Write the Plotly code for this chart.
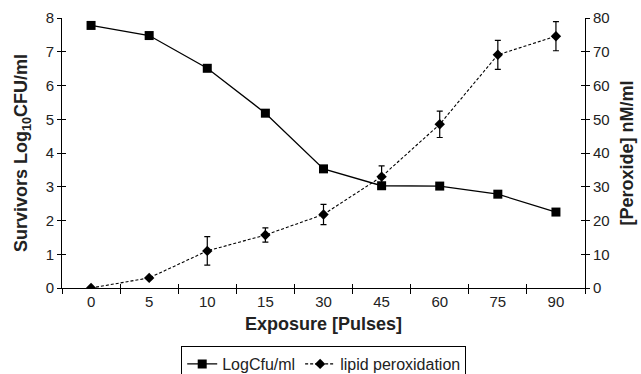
import plotly.graph_objects as go

exposure = ["0", "5", "10", "15", "30", "45", "60", "75", "90"]
log_cfu = [7.78, 7.48, 6.51, 5.18, 3.53, 3.03, 3.02, 2.78, 2.25]
lipid = [0.0, 3.0, 11.0, 15.7, 21.8, 33.0, 48.5, 69.1, 74.6]
lipid_err = [0, 0, 4.2, 2.1, 3.0, 3.2, 3.9, 4.3, 4.3]

font_family = "Liberation Sans, Arial, sans-serif"
txt = "#222222"

fig = go.Figure()
fig.add_trace(go.Scatter(
    x=exposure, y=log_cfu, name="LogCfu/ml", mode="lines+markers",
    line=dict(color="black", width=1.3),
    marker=dict(symbol="square", size=9, color="black"),
    xaxis="x", yaxis="y"))
fig.add_trace(go.Scatter(
    x=exposure, y=lipid, name="lipid peroxidation", mode="lines+markers",
    line=dict(color="black", width=1.1, dash="3px,2px"),
    marker=dict(symbol="diamond", size=8, color="black"),
    error_y=dict(type="data", array=lipid_err, visible=True,
                 color="black", thickness=1.2, width=3),
    xaxis="x", yaxis="y2"))
# invisible helper traces so the inner-tick axes get drawn
fig.add_trace(go.Scatter(x=exposure, y=log_cfu, mode="none", showlegend=False,
                         hoverinfo="skip", xaxis="x2", yaxis="y3"))
fig.add_trace(go.Scatter(x=exposure, y=lipid, mode="none", showlegend=False,
                         hoverinfo="skip", xaxis="x2", yaxis="y4"))

tick_common = dict(showgrid=False, zeroline=False, tickcolor="black", linecolor="black",
                   linewidth=1, automargin=False)

fig.update_layout(
    width=641, height=374,
    margin=dict(l=62, r=56, t=18, b=86),
    paper_bgcolor="white", plot_bgcolor="white",
    font=dict(family=font_family, size=15, color=txt),
    showlegend=True,
    legend=dict(orientation="h", x=0.505, xanchor="center", xref="container",
                y=1 - 346 / 374, yanchor="top", yref="container",
                bordercolor="black", borderwidth=1, font=dict(size=16, color=txt),
                itemwidth=30, tracegroupgap=0, bgcolor="white"),
    xaxis=dict(type="category", categoryarray=exposure, range=[-0.5, 8.5],
               showline=True, ticks="outside", tickson="boundaries", ticklen=5,
               tickfont=dict(size=15),
               title=dict(text="<b>Exposure [Pulses]</b>", font=dict(size=18), standoff=8),
               **tick_common),
    xaxis2=dict(type="category", categoryarray=exposure, range=[-0.5, 8.5],
                overlaying="x", anchor="y", side="bottom", showline=False,
                ticks="inside", tickson="boundaries", ticklen=4,
                showticklabels=False, **tick_common),
    yaxis=dict(range=[0, 8], dtick=1, showline=True, ticks="outside", ticklen=4,
               tickfont=dict(size=15),
               title=dict(text="<b>Survivors Log<sub>10</sub>CFU/ml</b>", font=dict(size=18), standoff=13),
               **tick_common),
    yaxis2=dict(range=[0, 80], dtick=10, overlaying="y", side="right", anchor="x",
                showline=True, ticks="outside", ticklen=4, tickfont=dict(size=15),
                title=dict(text="<b>[Peroxide] nM/ml</b>", font=dict(size=18), standoff=11),
                **tick_common),
    yaxis3=dict(range=[0, 8], dtick=1, overlaying="y", side="left", anchor="x2",
                showline=False, ticks="inside", ticklen=4, showticklabels=False,
                **tick_common),
    yaxis4=dict(range=[0, 80], dtick=10, overlaying="y", side="right", anchor="x2",
                showline=False, ticks="inside", ticklen=4, showticklabels=False,
                **tick_common),
)

fig.write_html("out.html")
